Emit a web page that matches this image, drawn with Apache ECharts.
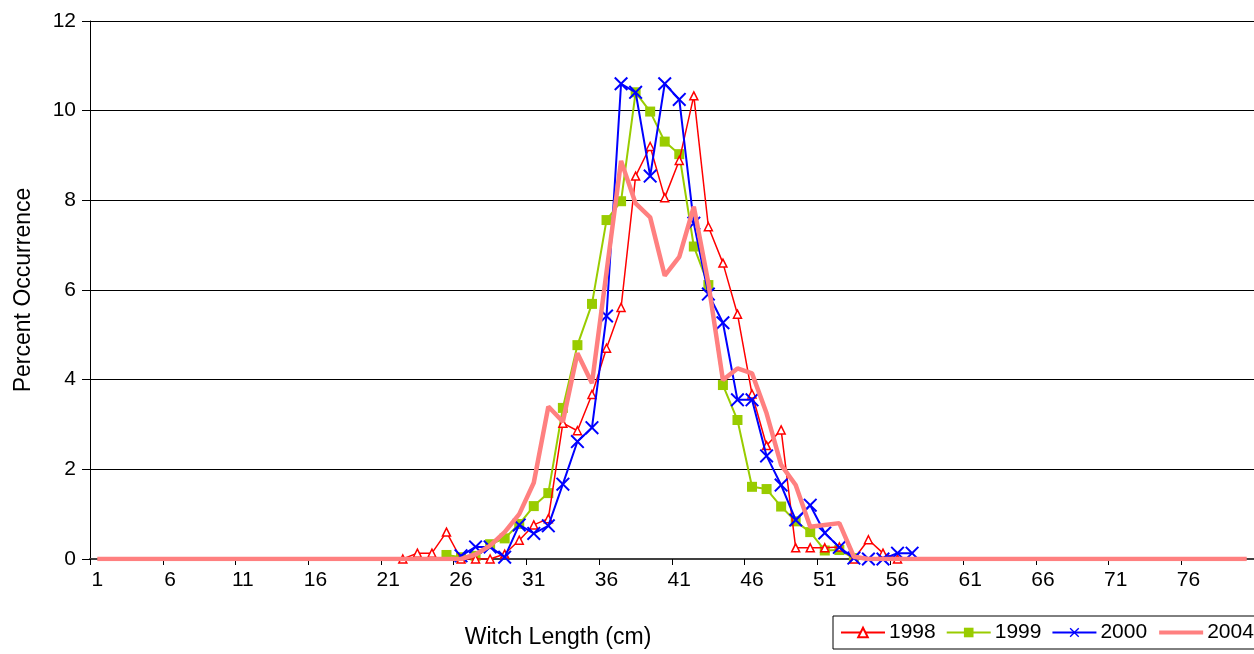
<!DOCTYPE html>
<html>
<head>
<meta charset="utf-8">
<script src="https://cdn.jsdelivr.net/npm/echarts@6/dist/echarts.min.js"></script>
<style>
html,body{margin:0;padding:0;background:#fff;}
#chart{width:1254px;height:654px;}
</style>
</head>
<body>
<div id="chart"></div>
<script>
// Categories: witch length 1..80 cm
const categories = [];
for (let i = 1; i <= 80; i++) categories.push(String(i));

// Values by length (index 0 = first length with data)
const y1998Start = 22;
const y1998 = [0, 0.13, 0.13, 0.6, 0, 0, 0, 0.11, 0.42, 0.76, 0.9, 3.03, 2.86, 3.67, 4.7, 5.61,
  8.54, 9.2, 8.06, 8.89, 10.33, 7.41, 6.6, 5.46, 3.68, 2.53, 2.88, 0.25, 0.25, 0.25, 0.27, 0, 0.43, 0.13, 0];
const y1999Start = 25;
const y1999 = [0.09, 0.04, 0.07, 0.33, 0.46, 0.78, 1.18, 1.47, 3.37, 4.77, 5.69, 7.56, 7.98, 10.41,
  9.98, 9.31, 9.03, 6.97, 6.11, 3.88, 3.1, 1.61, 1.56, 1.17, 0.84, 0.6, 0.19, 0.2, 0.02];
const y2000Start = 26;
const y2000 = [0.07, 0.27, 0.27, 0.04, 0.76, 0.57, 0.74, 1.67, 2.62, 2.93, 5.42, 10.6, 10.41, 8.54,
  10.6, 10.25, 7.49, 5.91, 5.27, 3.55, 3.55, 2.3, 1.65, 0.87, 1.2, 0.58, 0.26, 0.02, 0, 0, 0.13, 0.13];
const y2004 = [0,0,0,0,0,0,0,0,0,0, 0,0,0,0,0,0,0,0,0,0, 0,0,0,0,0,0, 0.1, 0.3, 0.6, 1.0,
  1.7, 3.4, 3.06, 4.59, 3.92, 6.4, 8.88, 7.93, 7.62, 6.32, 6.74, 7.86, 6.15, 3.99, 4.25, 4.14,
  3.25, 2.1, 1.65, 0.72, 0.76, 0.8, 0.05, 0,0,0,0,0,0,0, 0,0,0,0,0,0,0,0,0,0, 0,0,0,0,0,0,0,0,0,0];
const yTicks = [0, 2, 4, 6, 8, 10, 12];
const seriesNames = ['1998', '1999', '2000', '2004'];

function place(start, vals) {
  const out = new Array(categories.length).fill(null);
  vals.forEach((v, i) => { out[start - 1 + i] = v; });
  return out;
}

const FONT = 'Liberation Sans, Arial, sans-serif';
const xSym = 'path://M0,1L1,0L5,4L9,0L10,1L6,5L10,9L9,10L5,6L1,10L0,9L4,5Z';

const chart = echarts.init(document.getElementById('chart'), null, {renderer: 'canvas'});
chart.setOption({
  animation: false,
  backgroundColor: '#fff',
  textStyle: {fontFamily: FONT},
  grid: {left: 90, right: 0, top: 21, bottom: 95, containLabel: false, outerBoundsMode: 'none'},
  legend: {
    left: 833, top: 616, width: 440,
    orient: 'horizontal',
    data: [
      {name: seriesNames[0]}, {name: seriesNames[1]}, {name: seriesNames[2]},
      {name: seriesNames[3], itemStyle: {opacity: 0}, lineStyle: {width: 4}}
    ],
    borderColor: '#000', borderWidth: 1, borderRadius: 0,
    padding: [6, 12, 6, 7],
    itemGap: 10, itemWidth: 44, itemHeight: 12,
    textStyle: {fontSize: 21, color: '#000', fontFamily: FONT, padding: [0,0,0,-1]}
  },
  xAxis: {
    type: 'category',
    data: categories,
    boundaryGap: true,
    name: 'Witch Length (cm)',
    nameLocation: 'middle',
    nameGap: 67,
    nameTextStyle: {fontSize: 23, color: '#000', fontFamily: FONT, padding: [0, 228, 0, 0]},
    axisLine: {show: true, lineStyle: {color: '#404040', width: 2}},
    axisTick: {show: true, interval: 4, length: 6, lineStyle: {color: '#000'}},
    axisLabel: {interval: 4, fontSize: 21, color: '#000', margin: 11, fontFamily: FONT},
    splitLine: {show: false}
  },
  yAxis: {
    type: 'value',
    min: 0, max: 12, interval: 2,
    name: 'Percent Occurrence',
    nameLocation: 'middle',
    nameGap: 55,
    nameTextStyle: {fontSize: 23, color: '#000', fontFamily: FONT},
    axisLine: {show: true, lineStyle: {color: '#000', width: 1}},
    axisTick: {show: true, length: 8, lineStyle: {color: '#000'}},
    axisLabel: {fontSize: 21, color: '#000', margin: 14, fontFamily: FONT,
      formatter: v => yTicks.includes(v) ? String(v) : ''},
    splitLine: {show: true, lineStyle: {color: '#000', width: 1}}
  },
  series: [
    {
      name: '1998', type: 'line', data: place(y1998Start, y1998),
      symbol: 'triangle', symbolSize: 8, showAllSymbol: true,
      lineStyle: {color: '#FF0000', width: 1.5},
      itemStyle: {color: '#fff', borderColor: '#FF0000', borderWidth: 1.5},
      emphasis: {disabled: true}, z: 3
    },
    {
      name: '1999', type: 'line', data: place(y1999Start, y1999),
      symbol: 'rect', symbolSize: 10, showAllSymbol: true,
      lineStyle: {color: '#99CC00', width: 2},
      itemStyle: {color: '#99CC00', borderWidth: 0},
      emphasis: {disabled: true}, z: 2
    },
    {
      name: '2000', type: 'line', data: place(y2000Start, y2000),
      symbol: xSym, symbolSize: 14, showAllSymbol: true,
      lineStyle: {color: '#0000FF', width: 2},
      itemStyle: {color: '#0000FF', borderWidth: 0},
      emphasis: {disabled: true}, z: 4
    },
    {
      name: '2004', type: 'line', data: y2004,
      symbol: 'none', showSymbol: false,
      lineStyle: {color: '#FF8080', width: 4.5},
      itemStyle: {color: '#FF8080'},
      emphasis: {disabled: true}, z: 5
    }
  ]
});
</script>
</body>
</html>
